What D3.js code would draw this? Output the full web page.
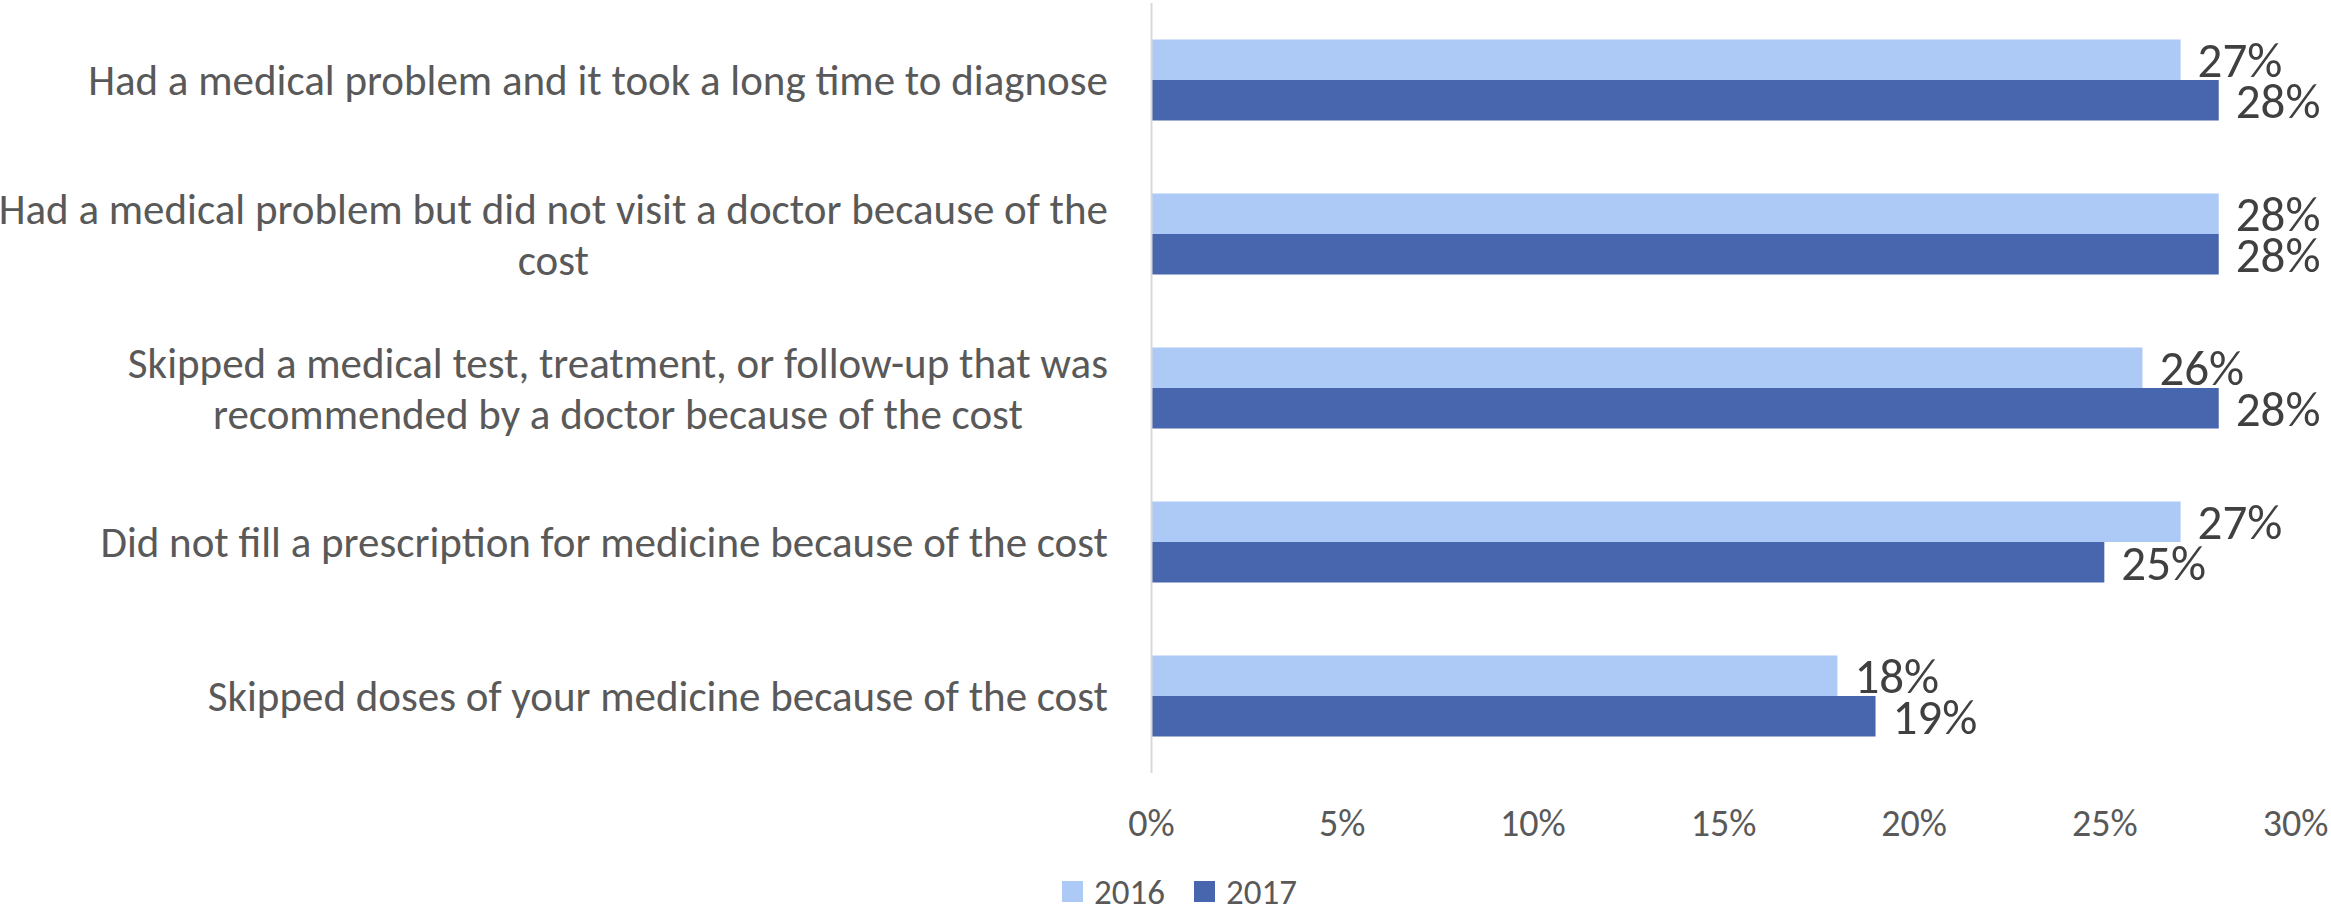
<!DOCTYPE html>
<html>
<head>
<meta charset="utf-8">
<script src="https://cdn.jsdelivr.net/npm/d3@7"></script>
<style>
  html, body { margin: 0; padding: 0; background: #fff; }
  svg { display: block; }
  text { font-family: Carlito, Calibri, Lato, "Open Sans", sans-serif; }
</style>
</head>
<body>
<svg id="chart" width="2331" height="914"></svg>
<script>
const categories = [
  "Had a medical problem and it took a long time to diagnose",
  "Had a medical problem but did not visit a doctor because of the cost",
  "Skipped a medical test, treatment, or follow-up that was recommended by a doctor because of the cost",
  "Did not fill a prescription for medicine because of the cost",
  "Skipped doses of your medicine because of the cost"
];
const categoryLines = [
  ["Had a medical problem and it took a long time to diagnose"],
  ["Had a medical problem but did not visit a doctor because of the", "cost"],
  ["Skipped a medical test, treatment, or follow-up that was", "recommended by a doctor because of the cost"],
  ["Did not fill a prescription for medicine because of the cost"],
  ["Skipped doses of your medicine because of the cost"]
];
const seriesNames = ["2016", "2017"];
const values2016 = [0.27, 0.28, 0.26, 0.27, 0.18];
const values2017 = [0.28, 0.28, 0.28, 0.25, 0.19];
const tickValues = [0, 0.05, 0.10, 0.15, 0.20, 0.25, 0.30];
const colors = ["#ADCAF7", "#4866AD"];

const series = [values2016, values2017];
const svg = d3.select("#chart");

const x = d3.scaleLinear().domain([0, 0.30]).range([1151, 2295]);
const y = d3.scaleBand().domain(categories).range([3, 773])
  .paddingInner(0.474).paddingOuter(0.237);
const y1 = d3.scaleBand().domain(seriesNames).range([0, y.bandwidth()]);

// bars
categories.forEach((c, i) => {
  seriesNames.forEach((s, j) => {
    svg.append("rect")
      .attr("x", x(0))
      .attr("y", y(c) + y1(s))
      .attr("width", x(series[j][i]) - x(0))
      .attr("height", y1.bandwidth())
      .attr("fill", colors[j]);
  });
});

// data labels
categories.forEach((c, i) => {
  seriesNames.forEach((s, j) => {
    const v = series[j][i];
    svg.append("text")
      .attr("x", x(v) + 17)
      .attr("y", y(c) + y1(s) + y1.bandwidth() - 3)
      .attr("font-size", 49)
      .attr("fill", "#404040")
      .text(d3.format(".0%")(v));
  });
});

// vertical axis line
svg.append("line")
  .attr("x1", x(0) + 0.5).attr("x2", x(0) + 0.5)
  .attr("y1", 3).attr("y2", 773)
  .attr("stroke", "#D9D9D9").attr("stroke-width", 2);

// bottom tick labels
const xAxis = d3.axisBottom(x).tickValues(tickValues).tickSize(0).tickFormat(d3.format(".0%"));
const gx = svg.append("g").attr("transform", "translate(0,806)").call(xAxis);
gx.select(".domain").remove();
gx.selectAll("text")
  .attr("font-size", 38)
  .attr("fill", "#595959")
  .attr("font-family", "Carlito, Calibri, Lato, sans-serif")
  .attr("dy", "0.71em");

// category labels
const labelRight = 1108;
const lineH = 51;
categories.forEach((c, i) => {
  const lines = categoryLines[i];
  const cy = y(c) + y.bandwidth() / 2;
  const g = svg.append("g");
  const texts = lines.map((ln, k) => g.append("text")
    .attr("font-size", 43)
    .attr("fill", "#595959")
    .attr("text-anchor", "middle")
    .attr("y", cy + (k - (lines.length - 1) / 2) * lineH)
    .attr("dy", "0.35em")
    .text(ln));
  const maxW = d3.max(texts, t => t.node().getComputedTextLength());
  texts.forEach(t => t.attr("x", labelRight - maxW / 2));
});

// legend
const legendItems = [
  { name: seriesNames[0], color: colors[0], sx: 1062, tx: 1094 },
  { name: seriesNames[1], color: colors[1], sx: 1194, tx: 1226 }
];
legendItems.forEach(d => {
  svg.append("rect").attr("x", d.sx).attr("y", 881).attr("width", 21).attr("height", 21).attr("fill", d.color);
  svg.append("text").attr("x", d.tx).attr("y", 891.5).attr("dy", "0.35em")
    .attr("font-size", 35).attr("fill", "#595959").text(d.name);
});
</script>
</body>
</html>
